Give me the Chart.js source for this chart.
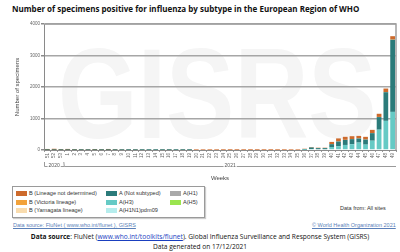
<!DOCTYPE html>
<html>
<head>
<meta charset="utf-8">
<script src="https://cdn.jsdelivr.net/npm/chart.js@4.4.0/dist/chart.umd.min.js"></script>
<style>
  body { margin:0; width:400px; height:252px; background:#fff; position:relative; overflow:hidden; font-family:"Liberation Sans", Arial, sans-serif; }
  #title { position:absolute; left:12px; top:3px; font:bold 8px "Open Sans", sans-serif; color:#111; white-space:nowrap; }
  #wm { position:absolute; left:58px; top:20px; font:bold 128px "Liberation Sans", Arial, sans-serif; color:#f5f5f5; transform:scaleX(0.8); transform-origin:left top; white-space:nowrap; }
  #wrap { position:absolute; left:0; top:0; width:400px; height:185px; }
  #legend { position:absolute; left:12px; top:186px; width:191px; height:30px; border:1px solid #9a9a9a; box-shadow:1px 1px 1px #ccc; font-size:5.6px; color:#333; }
  .it { position:absolute; white-space:nowrap; }
  .sw { display:inline-block; width:11px; height:5px; vertical-align:middle; margin-right:2px; }
  #from { position:absolute; left:340px; top:205px; font-size:5.5px; color:#333; }
  #src1 { position:absolute; left:13px; top:222px; font-size:5.5px; color:#5a7fb8; text-decoration:underline; }
  #who { position:absolute; left:312px; top:222px; font-size:5.5px; color:#5a7fb8; text-decoration:underline; }
  #foot { position:absolute; left:0; width:400px; top:232px; text-align:center; font:6.6px "Open Sans", sans-serif; color:#111; line-height:10px; }
  #foot a { color:#1a3fbf; text-decoration:underline; }
</style>
</head>
<body>
<div id="wm">GISRS</div>
<div id="title">Number of specimens positive for influenza by subtype in the European Region of WHO</div>
<div id="wrap"><canvas id="chart"></canvas></div>
<div id="legend">
  <div class="it" style="left:3px;top:3px"><span class="sw" style="background:#cd6a2c"></span>B (Lineage not determined)</div>
  <div class="it" style="left:3px;top:11.5px"><span class="sw" style="background:#f2a23a"></span>B (Victoria lineage)</div>
  <div class="it" style="left:3px;top:20px"><span class="sw" style="background:#f9dcae"></span>B (Yamagata lineage)</div>
  <div class="it" style="left:93px;top:3px"><span class="sw" style="background:#2b7b7a"></span>A (Not subtyped)</div>
  <div class="it" style="left:93px;top:11.5px"><span class="sw" style="background:#66cac5"></span>A(H3)</div>
  <div class="it" style="left:93px;top:20px"><span class="sw" style="background:#b6eded"></span>A(H1N1)pdm09</div>
  <div class="it" style="left:157px;top:3px"><span class="sw" style="background:#a9a9a9"></span>A(H1)</div>
  <div class="it" style="left:157px;top:11.5px"><span class="sw" style="background:#9be54f"></span>A(H5)</div>
</div>
<div id="from">Data from: All sites</div>
<div id="src1">Data source: FluNet ( www.who.int/flunet ), GISRS</div>
<div id="who">© World Health Organization 2021</div>
<div id="foot"><b>Data source</b>: FluNet (<a>www.who.int/toolkits/flunet</a>). Global Influenza Surveillance and Response System (GISRS)<br>Data generated on 17/12/2021</div>
<script>
// weeks: 2020 wk 51-53, then 2021 wk 1-49
const weeks = ['51','52','53','1','2','3','4','5','6','7','8','9','10','11','12','13','14','15','16','17','18','19','20','21','22','23','24','25','26','27','28','29','30','31','32','33','34','35','36','37','38','39','40','41','42','43','44','45','46','47','48','49']
const years = [{label:'2020', from:0, to:2}, {label:'2021', from:3, to:51}]
const yTicks = [0, 1000, 2000, 3000, 4000]

// values
const h1n1pdm = [0,0,0,0,0,0,0,0,0,0,0,0,0,0,0,0,0,0,0,0,0,0,0,0,0,0,0,0,0,0,0,0,0,0,0,0,0,0,0,0,0,0,0,0,0,0,0,0,0,0,0,0]
const h3 = [0,0,0,0,0,0,0,0,0,0,0,0,0,0,0,0,0,0,0,0,0,0,0,0,0,0,0,0,0,0,0,0,0,0,0,0,0,0,10,30,25,25,95,120,160,185,235,170,295,645,925,1210]
const h5 = new Array(52).fill(0)
const h1 = new Array(52).fill(0)
const notSubtyped = [3,4,3,4,3,2,3,3,2,3,2,2,1,2,1,1,1,1,1,1,1,1,0,0,0,0,0,0,0,0,0,0,0,0,0,0,0,0,20,50,35,35,90,150,160,160,130,160,240,400,910,2290]
const bYamagata = new Array(52).fill(0)
const bVictoria = [0,0,0,0,0,0,0,0,0,0,0,0,0,0,0,0,0,0,0,0,0,0,0,0,0,0,0,0,0,0,0,0,0,0,0,0,0,0,0,0,0,0,2,3,3,3,3,3,4,5,6,8]
const bNotDet = [30,35,25,30,25,20,20,28,22,30,20,15,12,15,10,8,8,10,12,8,10,8,5,5,4,4,3,2,2,3,2,2,3,2,3,4,5,6,10,15,12,12,70,95,95,90,80,85,100,100,110,105]

// draws the year brackets under the week labels
const yearPlugin = {
  id: 'years',
  afterDraw(chart) {
    const x = chart.scales.x
    const ctx = chart.ctx
    const step = x.getPixelForValue(1) - x.getPixelForValue(0)
    const y = 166
    ctx.save()
    ctx.strokeStyle = '#9a9a9a'
    ctx.lineWidth = 1
    ctx.font = '5px "Liberation Sans", Arial, sans-serif'
    ctx.fillStyle = '#555'
    ctx.textAlign = 'center'
    ctx.textBaseline = 'middle'
    years.forEach((yr, i) => {
      const x0 = x.getPixelForValue(yr.from) - step / 2
      const x1 = x.getPixelForValue(yr.to) + step / 2
      const mid = (x0 + x1) / 2
      const tw = ctx.measureText(yr.label).width + 2
      ctx.beginPath()
      if (i === 0) { ctx.moveTo(x0 + 0.5, y - 4); ctx.lineTo(x0 + 0.5, y + 0.5) }
      else ctx.moveTo(x0, y + 0.5)
      ctx.lineTo(mid - tw / 2, y + 0.5)
      ctx.moveTo(mid + tw / 2, y + 0.5)
      ctx.lineTo(x1, y + 0.5)
      if (i === 0) ctx.lineTo(x1 - 0.5, y - 4)
      ctx.stroke()
      ctx.fillText(yr.label, mid, y)
    })
    // plot border
    const a = chart.chartArea
    ctx.strokeStyle = '#a0a0a0'
    ctx.lineWidth = 1.5
    ctx.beginPath()
    ctx.moveTo(a.left, a.top)
    ctx.lineTo(a.right, a.top)
    ctx.lineTo(a.right, a.bottom)
    ctx.stroke()
    ctx.restore()
  }
}

const mk = (label, data, color) => ({ label, data, backgroundColor: color, barPercentage: 0.7, categoryPercentage: 1 })

new Chart(document.querySelector('#chart'), {
  type: 'bar',
  data: {
    labels: weeks,
    datasets: [
      mk('A(H1N1)pdm09', h1n1pdm, '#b6eded'),
      mk('A(H3)', h3, '#66cac5'),
      mk('A(H5)', h5, '#9be54f'),
      mk('A(H1)', h1, '#a9a9a9'),
      mk('A (Not subtyped)', notSubtyped, '#2b7b7a'),
      mk('B (Yamagata lineage)', bYamagata, '#f9dcae'),
      mk('B (Victoria lineage)', bVictoria, '#f2a23a'),
      mk('B (Lineage not determined)', bNotDet, '#cd6a2c')
    ]
  },
  options: {
    responsive: true,
    maintainAspectRatio: false,
    animation: false,
    layout: { padding: { top: 24, right: 4, left: 0, bottom: 0 } },
    plugins: { legend: { display: false }, tooltip: { enabled: false } },
    scales: {
      x: {
        stacked: true,
        afterFit(s) { s.height = 35 },
        grid: { drawOnChartArea: false, drawTicks: true, tickLength: 2, color: '#9a9a9a' },
        border: { color: '#8a8a8a' },
        ticks: { minRotation: 90, maxRotation: 90, autoSkip: false, padding: 1, font: { size: 4.5 }, color: '#666' },
        title: { display: true, text: 'Weeks', font: { size: 6 }, color: '#444', padding: { top: 0, bottom: 3.4 } }
      },
      y: {
        stacked: true,
        min: 0,
        max: 4000,
        afterFit(s) { s.width = 44 },
        afterBuildTicks(s) { s.ticks = yTicks.map(v => ({ value: v })) },
        grid: { color: (c) => c.tick.value === 0 ? 'rgba(0,0,0,0)' : '#a6a6a6', lineWidth: 1.5, tickLength: 3, tickColor: '#8a8a8a' },
        border: { color: '#8a8a8a' },
        ticks: { font: { size: 4.5 }, color: '#666', padding: 1, callback: (v) => String(v) },
        title: { display: true, text: 'Number of specimens', font: { size: 6 }, color: '#444', padding: { top: 13.4, bottom: 0 } }
      }
    }
  },
  plugins: [yearPlugin]
})
</script>
</body>
</html>
